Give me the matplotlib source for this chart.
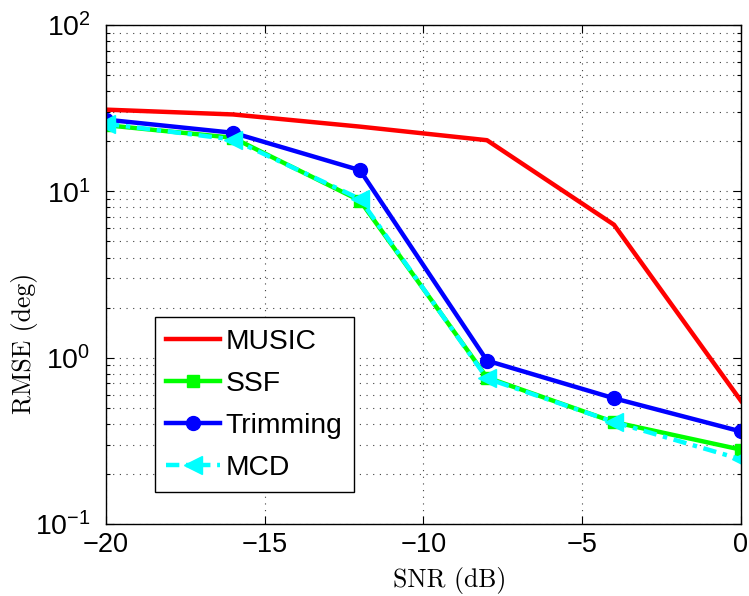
import matplotlib
matplotlib.use('Agg')
import matplotlib.pyplot as plt
from matplotlib.ticker import LogLocator, NullFormatter, FuncFormatter
import numpy as np

snr = [-20, -16, -12, -8, -4, 0]
music = [31.0, 29.0, 24.5, 20.3, 6.3, 0.55]
ssf = [25.0, 21.0, 8.8, 0.76, 0.41, 0.28]
trimming = [27.0, 22.5, 13.4, 0.96, 0.57, 0.36]
mcd = [25.5, 20.5, 9.0, 0.75, 0.41, 0.245]
labels = ['MUSIC', 'SSF', 'Trimming', 'MCD']

plt.rcParams['font.family'] = ['Liberation Sans', 'DejaVu Sans']
plt.rcParams['mathtext.fontset'] = 'custom'
plt.rcParams['mathtext.rm'] = 'Liberation Sans'

fig = plt.figure(figsize=(7.49, 5.96), dpi=100)
ax = fig.add_axes([0.1415, 0.1208, 0.8478, 0.8372])

handles = []
line, = ax.plot(snr, music, color='#ff0000', linewidth=3.2)
handles.append(line)
line, = ax.plot(snr, ssf, color='#00ff00', linewidth=3.2, marker='s', markersize=9)
handles.append(line)
line, = ax.plot(snr, trimming, color='#0000ff', linewidth=3.2, marker='o', markersize=10)
handles.append(line)
line, = ax.plot(snr, mcd, color='#00ffff', linewidth=3.2, linestyle=(0, (3, 1.5, 1, 1.5)),
                marker='<', markersize=13)
handles.append(line)

ax.set_yscale('log')
ax.set_xlim(-20, 0)
ax.set_ylim(0.1, 100)
ax.set_xticks([-20, -15, -10, -5, 0])
ax.set_xticklabels(['\u221220', '\u221215', '\u221210', '\u22125', '0'])
ax.yaxis.set_major_locator(LogLocator(base=10, numticks=10))
ax.yaxis.set_minor_locator(LogLocator(base=10, subs=range(2, 10), numticks=20))
ax.yaxis.set_minor_formatter(NullFormatter())


def exp_fmt(v, pos):
    e = int(round(np.log10(v)))
    return r'$\mathregular{10^{%d}}$' % e


ax.yaxis.set_major_formatter(FuncFormatter(exp_fmt))

ax.tick_params(which='both', direction='in', top=True, right=True, width=0.8)
ax.tick_params(axis='x', labelsize=19.5, pad=5.5)
ax.tick_params(axis='y', labelsize=20.5, pad=11)
ax.tick_params(which='major', length=6)
ax.tick_params(which='minor', length=3)

ax.grid(True, which='major', linestyle=(0, (1, 5)), color='0.25', linewidth=0.8)
ax.grid(True, which='minor', axis='y', linestyle=(0, (1, 5)), color='0.25', linewidth=0.8)
ax.set_axisbelow(True)
for s in ax.spines.values():
    s.set_linewidth(1.0)

ax.set_xlabel('SNR (dB)', fontname='cmr10', fontsize=18.5)
ax.set_ylabel('RMSE (deg)', fontname='cmr10', fontsize=18.5)
# the labels sit off-centre in the original export
ax.xaxis.set_label_coords(0.542, -0.114)
ax.xaxis.label.set_va('center')
ax.yaxis.set_label_coords(-0.1276, 0.363)
ax.yaxis.label.set_va('center')

leg = ax.legend(handles=handles, labels=labels, loc='lower left',
                bbox_to_anchor=(0.0772, 0.0641), borderaxespad=0, fontsize=20.3,
                fancybox=False, framealpha=1, edgecolor='black',
                handlelength=1.9, handletextpad=0.2, labelspacing=0.57,
                borderpad=0.4)
leg.get_frame().set_linewidth(1.0)

plt.savefig('out.png', dpi=100)
